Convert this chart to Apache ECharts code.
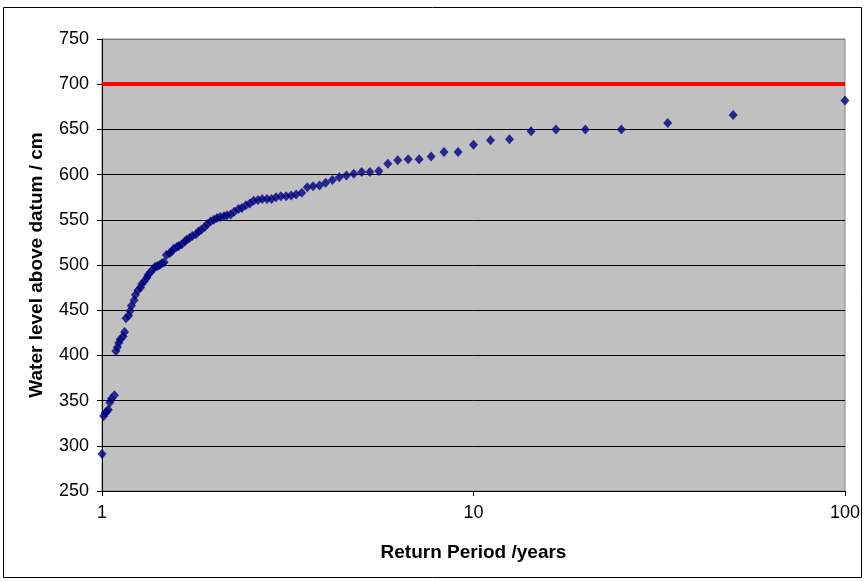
<!DOCTYPE html>
<html>
<head>
<meta charset="utf-8">
<script src="https://cdn.jsdelivr.net/npm/echarts@6/dist/echarts.min.js"></script>
<style>
html,body{margin:0;padding:0;background:#fff;}
#chart{width:865px;height:581px;}
</style>
</head>
<body>
<div id="chart"></div>
<script>
// Return periods (years) of the plotted points, largest first
var returnPeriods = [100, 50, 33.33, 25, 20, 16.67, 14.29, 12.5, 11.11, 10,
  9.09, 8.33, 7.69, 7.14, 6.67, 6.25, 5.88, 5.56, 5.26, 5,
  4.76, 4.55, 4.35, 4.17, 4, 3.85, 3.7, 3.57, 3.45, 3.33,
  3.23, 3.13, 3.03, 2.94, 2.86, 2.78, 2.7, 2.63, 2.56, 2.5,
  2.44, 2.38, 2.33, 2.27, 2.22, 2.17, 2.13, 2.08, 2.04, 2,
  1.96, 1.92, 1.89, 1.85, 1.82, 1.79, 1.75, 1.72, 1.69, 1.67,
  1.64, 1.61, 1.59, 1.56, 1.54, 1.52, 1.49, 1.47, 1.45, 1.43,
  1.41, 1.39, 1.37, 1.35, 1.33, 1.32, 1.3, 1.28, 1.27, 1.25,
  1.23, 1.22, 1.2, 1.19, 1.18, 1.16, 1.15, 1.14, 1.12, 1.11,
  1.1, 1.09, 1.08, 1.06, 1.05, 1.04, 1.03, 1.02, 1.01, 1];
// Water level above datum (cm)
var waterLevels = [682, 666, 657, 650, 650, 650, 648, 639, 638, 633,
  625, 625, 620, 617, 617, 616, 612, 604, 603, 603,
  601, 599, 597, 594, 591, 588, 587, 586, 580, 578,
  577, 576, 576, 575, 573, 573, 573, 572, 571, 568,
  566, 563, 562, 559, 556, 555, 554, 553, 552, 550,
  548, 545, 542, 539, 537, 534, 532, 530, 528, 526,
  523, 521, 520, 518, 515, 513, 511, 503, 502, 500,
  499, 498, 495, 492, 489, 486, 482, 479, 475, 472,
  467, 461, 455, 449, 444, 441, 426, 421, 418, 414,
  409, 405, 356, 352, 348, 340, 338, 336, 333, 291];
var thresholdLevel = 700;
var yTicks = {min: 250, max: 750, step: 50};
var xRange = {min: 1, max: 100};
var xAxisTitle = 'Return Period /years';
var yAxisTitle = 'Water level above datum / cm';

var points = returnPeriods.map(function (t, i) { return [t, waterLevels[i]]; });

var chart = echarts.init(document.getElementById('chart'), null, {renderer: 'canvas'});
var fontFam = 'Arial, "Liberation Sans", sans-serif';
var split = [];
for (var v = yTicks.min; v <= yTicks.max; v += yTicks.step) split.push(v === yTicks.max ? '#808080' : '#000000');

chart.setOption({
  animation: false,
  backgroundColor: '#ffffff',
  graphic: [{
    type: 'rect', z: -1, silent: true,
    shape: {x: 3.5, y: 7.5, width: 858, height: 570},
    style: {fill: 'none', stroke: '#000', lineWidth: 1}
  }],
  grid: {
    left: 102, top: 39, width: 743, height: 452,
    show: true, backgroundColor: '#C0C0C0', borderColor: '#808080', borderWidth: 1
  },
  xAxis: {
    type: 'log', logBase: 10, min: xRange.min, max: xRange.max,
    name: xAxisTitle, nameLocation: 'middle', nameGap: 52,
    nameTextStyle: {fontFamily: fontFam, fontWeight: 'bold', fontSize: 19, color: '#000'},
    axisLine: {show: true, lineStyle: {color: '#000', width: 1}},
    axisTick: {show: true, inside: false, length: 5, lineStyle: {color: '#000'}},
    minorTick: {show: false},
    splitLine: {show: false},
    axisLabel: {fontFamily: fontFam, fontSize: 18, color: '#000', margin: 13,
      formatter: function (v) { return String(Math.round(v)); }}
  },
  yAxis: {
    type: 'value', min: yTicks.min, max: yTicks.max, interval: yTicks.step,
    name: yAxisTitle, nameLocation: 'middle', nameGap: 56, nameRotate: 90,
    nameTextStyle: {fontFamily: fontFam, fontWeight: 'bold', fontSize: 19, color: '#000'},
    axisLine: {show: true, lineStyle: {color: '#000', width: 1}},
    axisTick: {show: true, inside: false, length: 5, lineStyle: {color: '#000'}},
    splitLine: {show: true, lineStyle: {color: split, width: 1}},
    axisLabel: {fontFamily: fontFam, fontSize: 18, color: '#000', margin: 13}
  },
  series: [{
    type: 'scatter',
    data: points,
    symbol: 'diamond',
    symbolSize: [9, 10],
    itemStyle: {color: '#000080'},
    z: 3,
    markLine: {
      silent: true, symbol: ['none', 'none'], label: {show: false},
      lineStyle: {color: '#FF0000', width: 4, type: 'solid'},
      data: [{yAxis: thresholdLevel}]
    }
  }]
});
</script>
</body>
</html>
